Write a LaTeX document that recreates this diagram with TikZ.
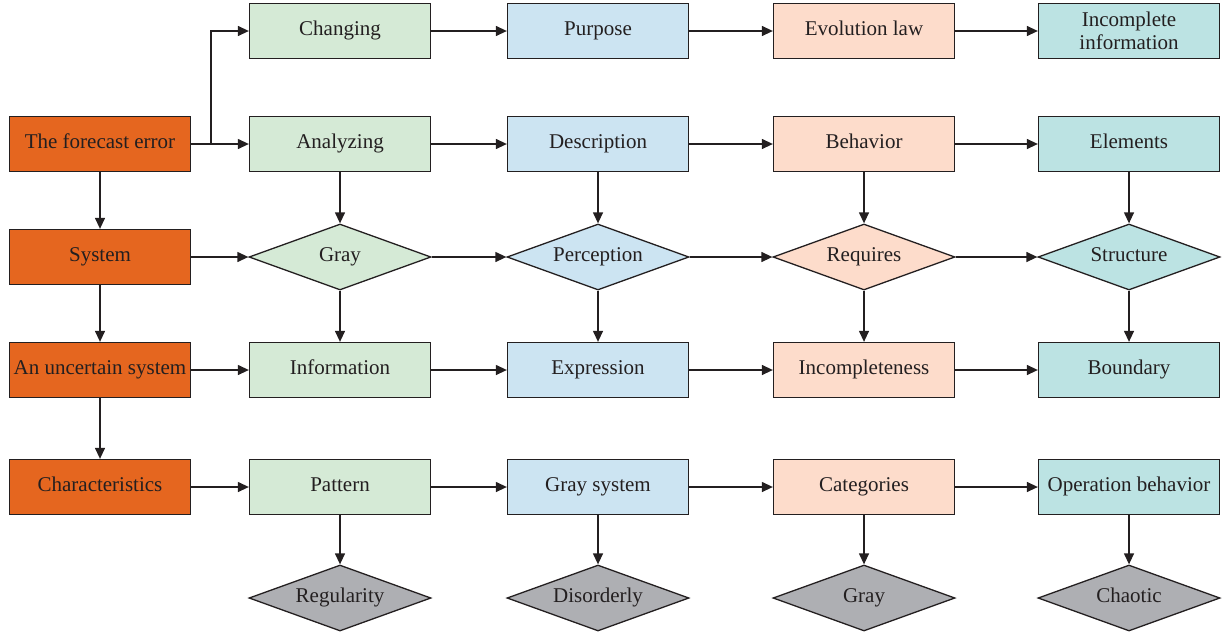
\documentclass[tikz,border=0pt]{standalone}
\usepackage{fontspec}
\setmainfont{Liberation Serif}
\usetikzlibrary{arrows.meta,shapes.geometric}
\definecolor{txt}{HTML}{231F20}
\definecolor{corange}{HTML}{E5661F}
\definecolor{cgreen}{HTML}{D5EAD6}
\definecolor{cblue}{HTML}{CCE4F2}
\definecolor{cpeach}{HTML}{FDDCCB}
\definecolor{cteal}{HTML}{BCE3E3}
\definecolor{cgray}{HTML}{AEAFB3}
\definecolor{cline}{HTML}{231F20}
\tikzset{
  box/.style={draw=cline, line width=1.3pt, rectangle, minimum width=181pt, minimum height=55pt, inner sep=0pt, text=txt, font=\fontsize{21}{24}\selectfont, align=center, text height=14pt, text depth=5pt},
  twoline/.style={text height=, text depth=},
  dia/.style={draw=cline, line width=1.3pt, diamond, shape aspect=2.76, minimum width=182pt, minimum height=66pt, inner sep=0pt, text=txt, font=\fontsize{21}{24}\selectfont, text height=14pt, text depth=5pt},
  arr/.style={draw=cline, line width=1.3pt, -{Triangle[length=11pt,width=10pt]}}
}
\begin{document}
\begin{tikzpicture}[x=1pt,y=-1pt]
\useasboundingbox (0,0) rectangle (1222,635);
% column x centres: 100, 340, 598, 864, 1129
% row y centres: 31, 144, 257, 370, 487, 598
\node[box, fill=corange] (fe) at (100,144) {The forecast error};
\node[box, fill=corange] (sys) at (100,257) {System};
\node[box, fill=corange] (unc) at (100,370) {An uncertain system};
\node[box, fill=corange] (cha) at (100,487) {Characteristics};

\node[box, fill=cgreen] (g1) at (340,31) {Changing};
\node[box, fill=cgreen] (g2) at (340,144) {Analyzing};
\node[dia, fill=cgreen] (g3) at (340,257) {Gray};
\node[box, fill=cgreen] (g4) at (340,370) {Information};
\node[box, fill=cgreen] (g5) at (340,487) {Pattern};
\node[dia, fill=cgray] (g6) at (340,598) {Regularity};

\node[box, fill=cblue] (b1) at (598,31) {Purpose};
\node[box, fill=cblue] (b2) at (598,144) {Description};
\node[dia, fill=cblue] (b3) at (598,257) {Perception};
\node[box, fill=cblue] (b4) at (598,370) {Expression};
\node[box, fill=cblue] (b5) at (598,487) {Gray system};
\node[dia, fill=cgray] (b6) at (598,598) {Disorderly};

\node[box, fill=cpeach] (p1) at (864,31) {Evolution law};
\node[box, fill=cpeach] (p2) at (864,144) {Behavior};
\node[dia, fill=cpeach] (p3) at (864,257) {Requires};
\node[box, fill=cpeach] (p4) at (864,370) {Incompleteness};
\node[box, fill=cpeach] (p5) at (864,487) {Categories};
\node[dia, fill=cgray] (p6) at (864,598) {Gray};

\node[box, twoline, fill=cteal] (t1) at (1129,31) {Incomplete\\[-1pt]information};
\node[box, fill=cteal] (t2) at (1129,144) {Elements};
\node[dia, fill=cteal] (t3) at (1129,257) {Structure};
\node[box, fill=cteal] (t4) at (1129,370) {Boundary};
\node[box, fill=cteal] (t5) at (1129,487) {Operation behavior};
\node[dia, fill=cgray] (t6) at (1129,598) {Chaotic};

% left column verticals
\draw[arr] (fe) -- (sys);
\draw[arr] (sys) -- (unc);
\draw[arr] (unc) -- (cha);

% branch from forecast error
\coordinate (br) at (211,144);
\draw[arr] (fe) -- (g2);
\draw[arr] (br) |- (g1);

% rows
\draw[arr] (g1) -- (b1);
\draw[arr] (b1) -- (p1);
\draw[arr] (p1) -- (t1);

\draw[arr] (g2) -- (b2);
\draw[arr] (b2) -- (p2);
\draw[arr] (p2) -- (t2);

\draw[arr] (sys) -- (g3);
\draw[arr] (g3) -- (b3);
\draw[arr] (b3) -- (p3);
\draw[arr] (p3) -- (t3);

\draw[arr] (unc) -- (g4);
\draw[arr] (g4) -- (b4);
\draw[arr] (b4) -- (p4);
\draw[arr] (p4) -- (t4);

\draw[arr] (cha) -- (g5);
\draw[arr] (g5) -- (b5);
\draw[arr] (b5) -- (p5);
\draw[arr] (p5) -- (t5);

% column verticals
\foreach \c in {g,b,p,t}{
  \draw[arr] (\c2) -- (\c3);
  \draw[arr] (\c3) -- (\c4);
  \draw[arr] (\c5) -- (\c6);
}
\end{tikzpicture}
\end{document}
